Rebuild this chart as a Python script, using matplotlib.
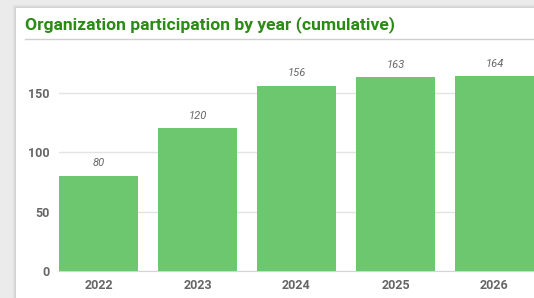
import matplotlib.pyplot as plt
from matplotlib.patches import Rectangle
from matplotlib.lines import Line2D

years = ['2022', '2023', '2024', '2025', '2026']
orgs = [80, 120, 156, 163, 164]

W, H = 534, 298
fig = plt.figure(figsize=(W / 100, H / 100), dpi=100)
fig.patch.set_facecolor('#ebebeb')

# card with a soft shadow
for i, a in enumerate([0.05, 0.07, 0.1]):
    off = 3 - i
    fig.patches.append(Rectangle(((16 - off) / W, 0), 1, (H - 8 + off) / H,
                                 transform=fig.transFigure, color='#9a9a9a',
                                 alpha=a, zorder=0))
fig.patches.append(Rectangle((16 / W, 0), 1, (H - 8) / H, transform=fig.transFigure,
                             facecolor='white', edgecolor='none', zorder=1))

fig.text(25 / W, (H - 29) / H, 'Organization participation by year (cumulative)',
         color='#2c8a16', fontsize=12.6, fontweight='bold', family='Roboto',
         ha='left', va='baseline', zorder=3)
fig.lines.append(Line2D([25 / W, 1], [(H - 39) / H] * 2, transform=fig.transFigure,
                        color='#cfcfcf', lw=1, zorder=2))

ax = fig.add_axes([59 / W, (H - 271) / H, 1 - 59 / W, 221 / H])
ax.set_zorder(5)
ax.set_facecolor('none')
x = range(len(years))
bars = ax.bar(x, orgs, width=0.8, color='#6cc76e', zorder=3)
for xi, v in zip(x, orgs):
    ax.annotate(str(v), (xi, v), xytext=(0, 5.5), textcoords='offset points',
                ha='center', va='bottom', fontsize=8, style='italic',
                color='#666666', family='Roboto')

ax.set_xlim(-0.4, 4.4)
ax.set_ylim(0, 186)
ax.set_yticks([0, 50, 100, 150])
ax.set_xticks(list(x))
ax.set_xticklabels(years)
ax.grid(axis='y', color='#e3e3e3', lw=1, zorder=0)
for s in ['top', 'right', 'left']:
    ax.spines[s].set_visible(False)
ax.spines['bottom'].set_color('#d5d5d5')
ax.tick_params(axis='both', length=0, labelsize=9, labelcolor='#666666')
ax.tick_params(axis='y', pad=6.5)
ax.tick_params(axis='x', pad=6)
for lab in ax.get_xticklabels() + ax.get_yticklabels():
    lab.set_fontweight('bold')
    lab.set_family('Roboto')

fig.savefig('out.png', dpi=100, facecolor=fig.get_facecolor())
